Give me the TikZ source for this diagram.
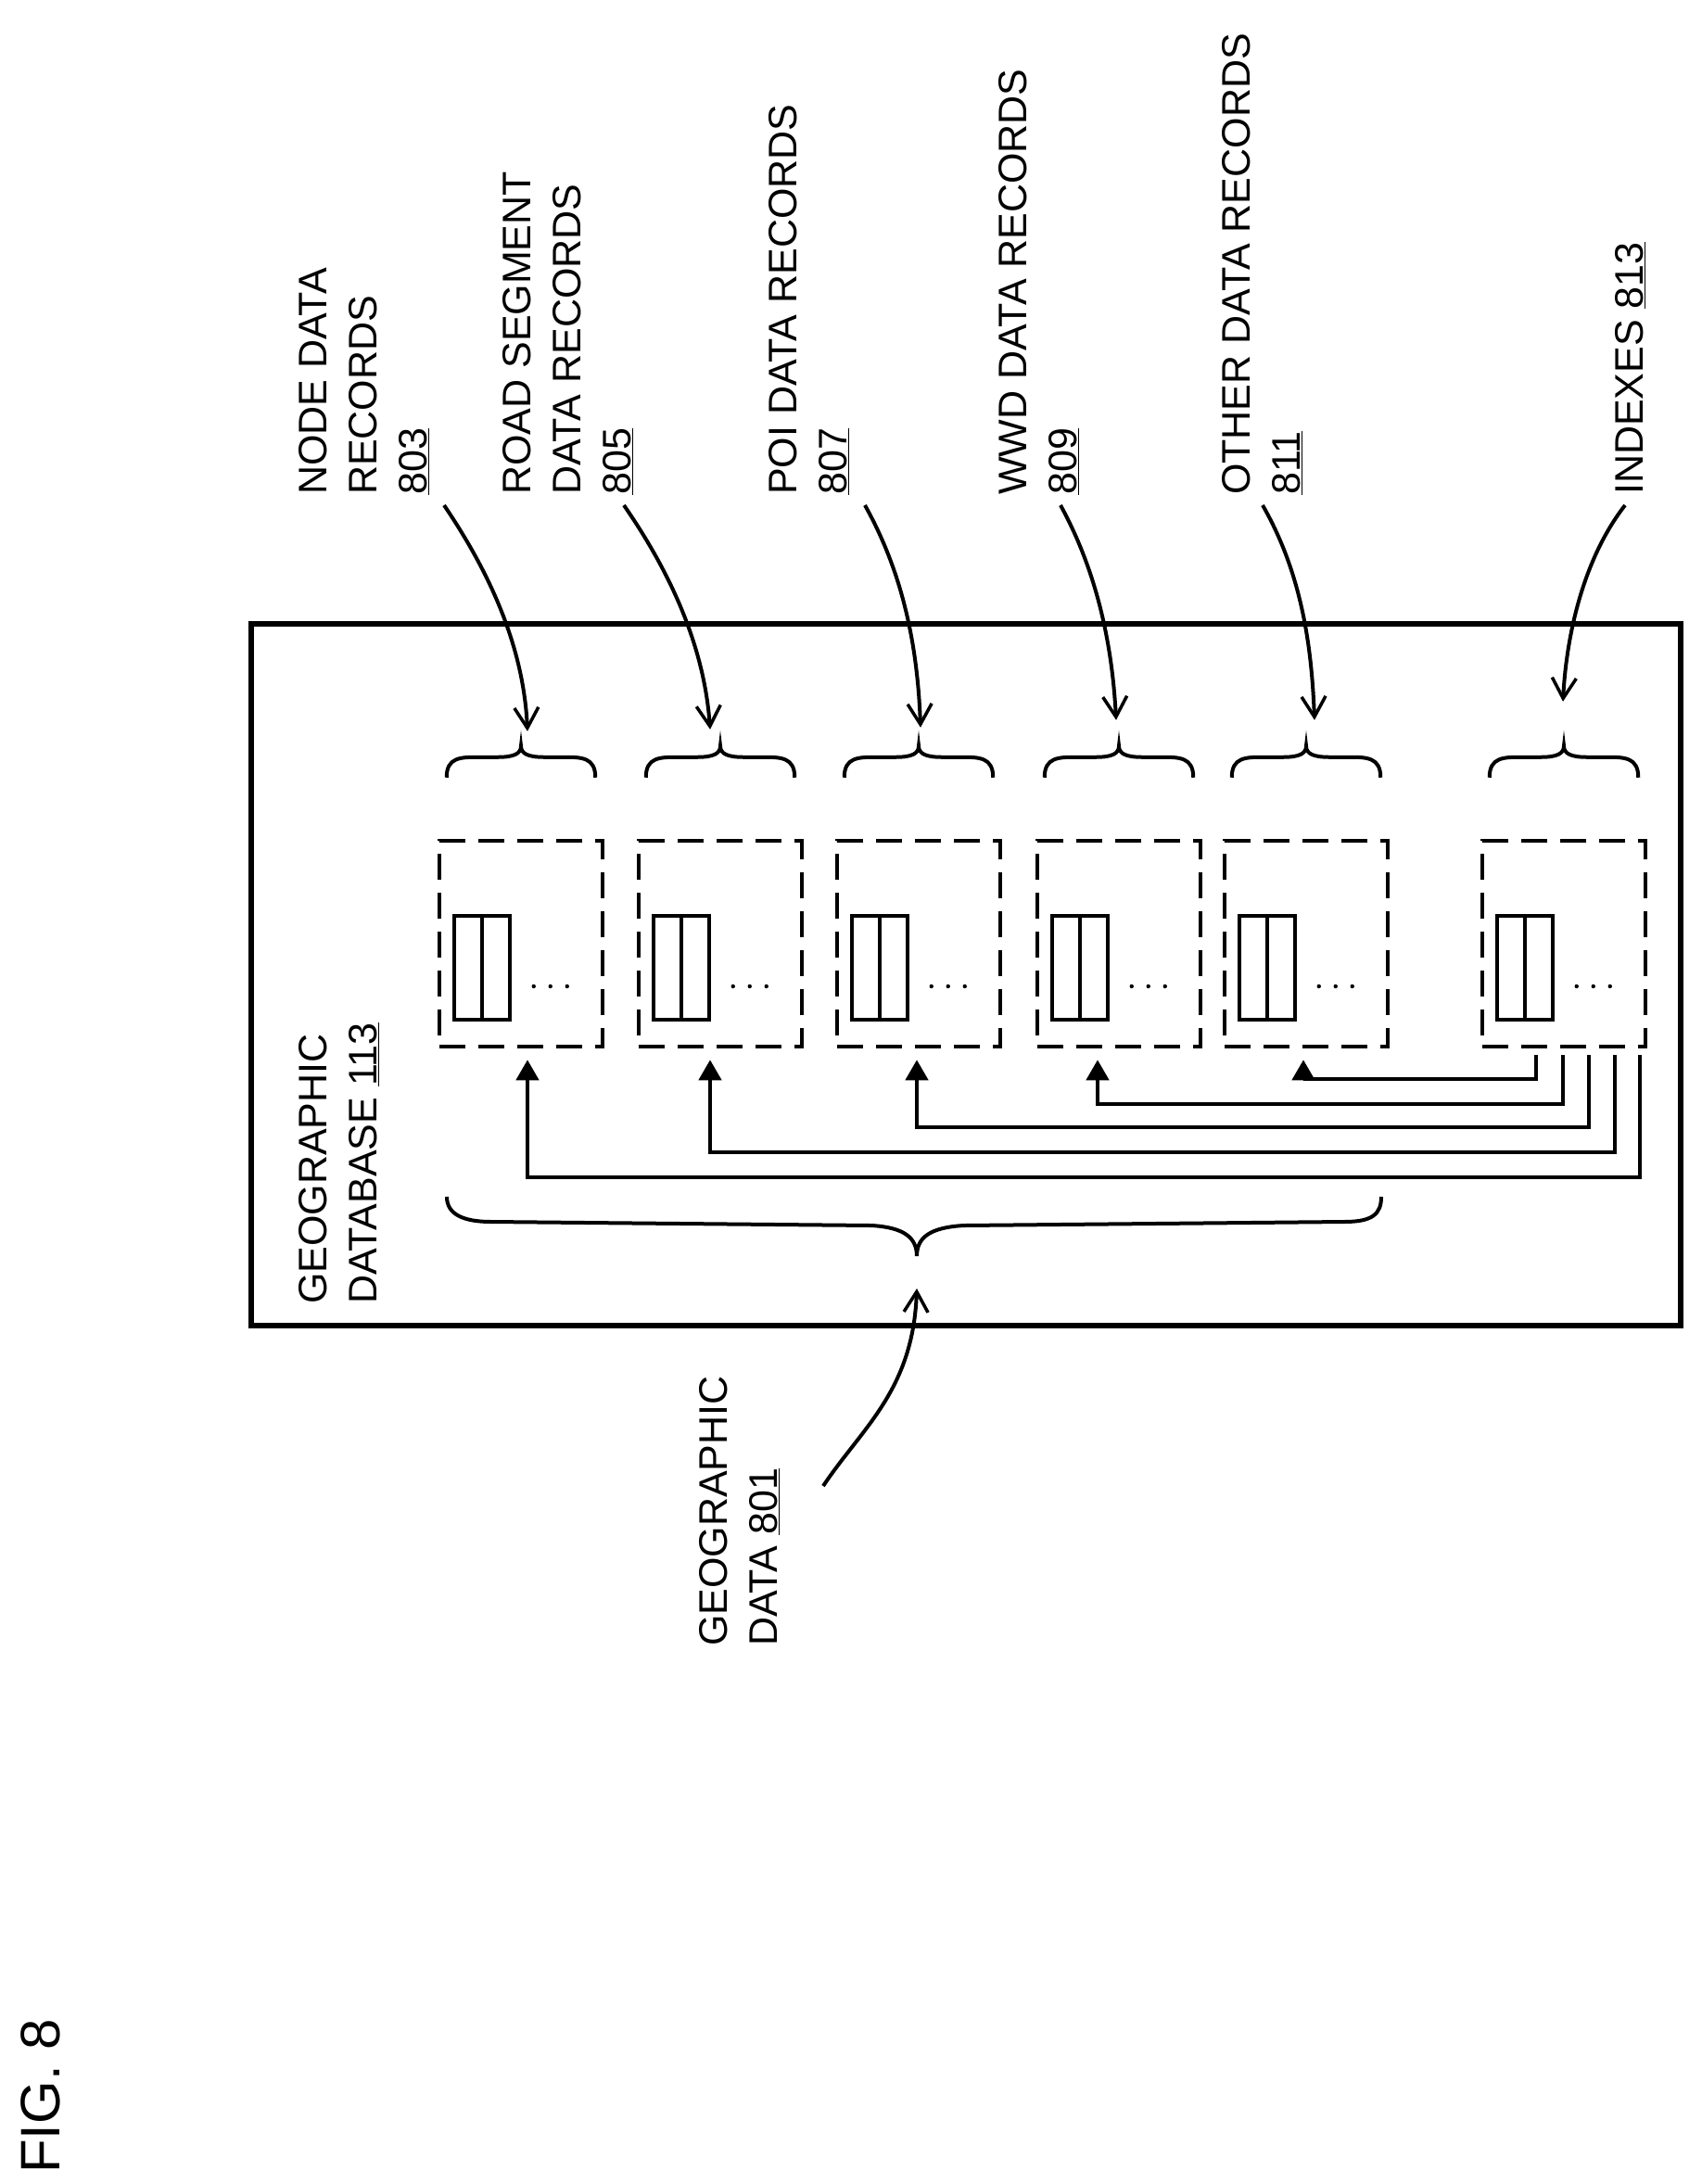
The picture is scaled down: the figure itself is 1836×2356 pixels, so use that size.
\documentclass[tikz,border=0pt]{standalone}
\usepackage{fontspec}
\setmainfont{Liberation Sans}
\usetikzlibrary{arrows.meta,calc}
\begin{document}
\begin{tikzpicture}[x=1pt,y=-1pt,
  lbl/.style={rotate=90,anchor=north west,align=left,inner sep=0pt,font=\fontsize{43}{54}\selectfont},
  dbox/.style={draw,line width=4.5pt,dash pattern=on 28pt off 14pt,minimum width=176pt,minimum height=222pt,inner sep=0pt},
  rec/.style={draw,line width=4pt,minimum width=60pt,minimum height=112pt,inner sep=0pt},
  lead/.style={line width=4pt,-{Straight Barb[length=22pt,width=26pt,line width=3.5pt]}},
  up/.style={line width=4.5pt,-{Triangle[length=22pt,width=24pt]}},
  brc/.style={line width=4pt}]
\useasboundingbox (0,0) rectangle (1836,2356);
% outer box
\node[draw,line width=6.5pt,minimum width=1542pt,minimum height=757pt,inner sep=0pt] (db) at (1042,1051.5) {};
\node[lbl] (dbl) at (322,1407) {GEOGRAPHIC\\DATABASE \underline{113}};
% dashed boxes
\foreach \n/\x in {1/562,2/777,3/991,4/1207,5/1409,6/1687}{
  \node[dbox] (b\n) at (\x,1018) {};
  \node[rec] (r\n) at ($(b\n.west)+(48,26)$) {};
  \draw[line width=4pt] (r\n.north) -- (r\n.south);
  \foreach \d in {0,18,36} \fill ($(r\n.east)+(24+\d,20)$) circle (2.2pt);
  \coordinate (t\n) at ($(b\n.north)+(0,-100)$);
  \draw[brc] ($(b\n.north west)+(10,-66)$) .. controls +(0,-22) and +(-20,0) .. ($(b\n.north west)+(45,-88)$)
     -- ($(t\n)+(-25,12)$) .. controls +(18,0) and +(0,8) .. (t\n)
     .. controls +(0,8) and +(-18,0) .. ($(t\n)+(25,12)$)
     -- ($(b\n.north east)+(-45,-88)$) .. controls +(20,0) and +(0,-22) .. ($(b\n.north east)+(-10,-66)$);
}
% labels
\node[lbl] (l803) at (322,534) {NODE DATA\\RECORDS\\\underline{803}};
\node[lbl] (l805) at (542,534) {ROAD SEGMENT\\DATA RECORDS\\\underline{805}};
\node[lbl] (l807) at (829,534) {POI DATA RECORDS\\\underline{807}};
\node[lbl] (l809) at (1077,534) {WWD DATA RECORDS\\\underline{809}};
\node[lbl] (l811) at (1318,534) {OTHER DATA RECORDS\\\underline{811}};
\node[lbl] (l813) at (1742,534) {INDEXES \underline{813}};
\node[lbl] (l801) at (754,1776) {GEOGRAPHIC\\DATA \underline{801}};
\node[rotate=90,anchor=north west,inner sep=0pt,font=\fontsize{60}{66}\selectfont] (fig) at (22,2345) {FIG. 8};
% leader arrows
\draw[lead] (479,545) .. controls (530,620) and (565,700) .. ($(t1)+(7,-16)$);
\draw[lead] (673,545) .. controls (725,620) and (760,700) .. ($(t2)+(-11,-18)$);
\draw[lead] (933,545) .. controls (975,620) and (990,700) .. ($(t3)+(2,-20)$);
\draw[lead] (1144,545) .. controls (1185,620) and (1200,700) .. ($(t4)+(-3,-28)$);
\draw[lead] (1362,545) .. controls (1405,620) and (1415,700) .. ($(t5)+(9,-28)$);
\draw[lead] (1753,545) .. controls (1710,600) and (1690,680) .. ($(t6)+(-1,-48)$);
% big brace
\coordinate (bt) at (989,1355);
\draw[brc] (482,1291) .. controls (482,1310) and (500,1318) .. (530,1318)
  -- (940,1322) .. controls (975,1324) and (989,1335) .. (bt)
  .. controls (989,1335) and (1003,1324) .. (1040,1322)
  -- (1450,1318) .. controls (1480,1318) and (1490,1310) .. (1490,1291);
\draw[lead] (888,1603) .. controls (930,1540) and (985,1500) .. ($(bt)+(0,35)$);
% index connectors
\foreach \k/\sx/\ly/\tx in {5/1657/1164/1406,4/1686/1191/1184,3/1714/1216/989,2/1742/1243/766,1/1769/1270/569}{
  \coordinate (s\k) at (\sx,1138);
  \draw[up] (s\k) -- (\sx,\ly) -- (\tx,\ly) -- ($(\tx,0)!(b\k.south)!(\tx,10)+(0,12)$);
}
\end{tikzpicture}
\end{document}
